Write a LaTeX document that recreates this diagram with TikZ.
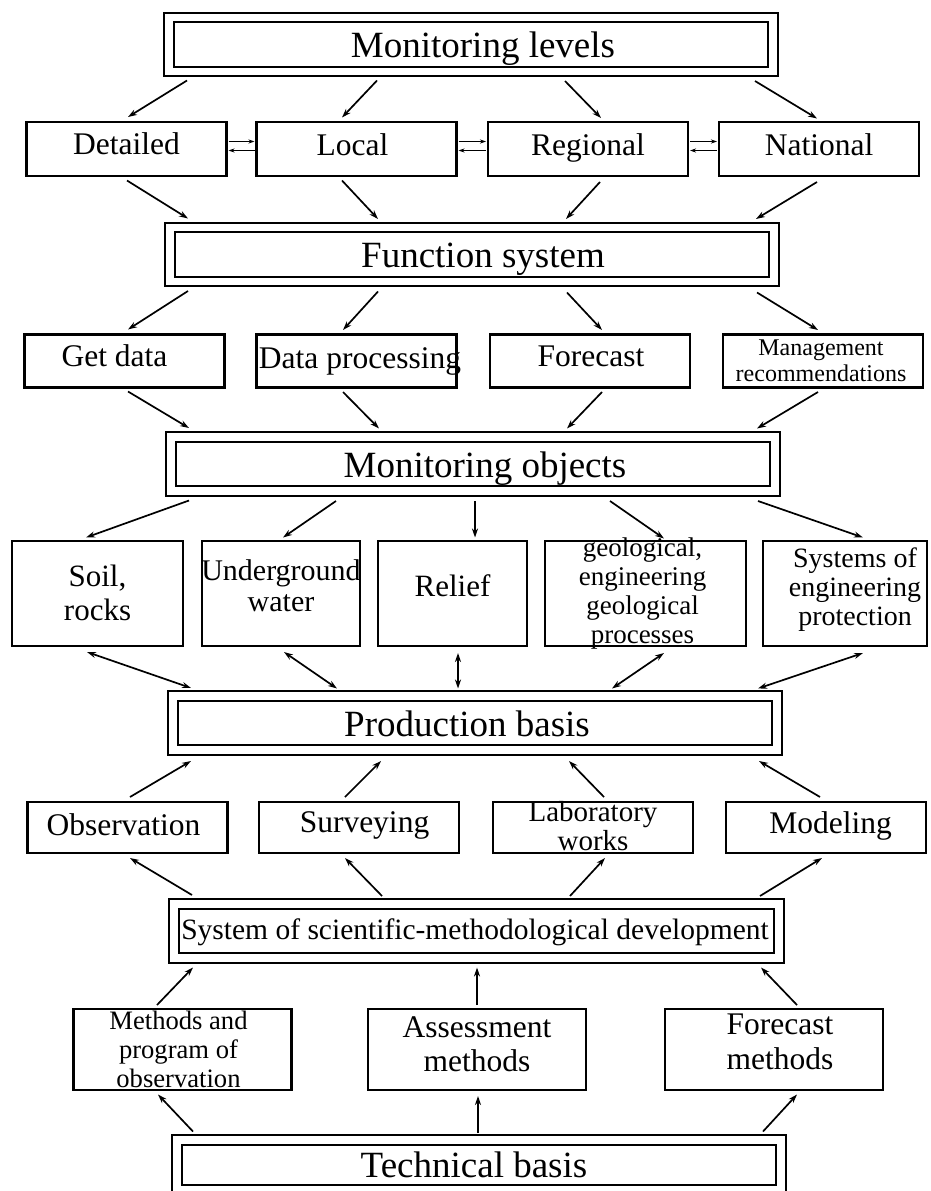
\documentclass[tikz,border=0pt]{standalone}
\usepackage{fontspec}
\setmainfont{Liberation Serif}
\usetikzlibrary{arrows.meta}
\begin{document}
\begin{tikzpicture}[x=1pt,y=-1pt,
  box/.style={draw, line width=2.2pt, inner sep=0pt, outer sep=0pt},
  dbox/.style={draw, line width=2pt, double, double distance=7.2pt, inner sep=0pt, outer sep=0pt,
    minimum width=604pt, minimum height=54pt},
  lvl/.style={box, minimum width=200pt, minimum height=54pt},
  fun/.style={box, minimum width=200pt, minimum height=53pt},
  obj/.style={box, minimum height=105pt},
  wrk/.style={box, minimum width=200pt, minimum height=51pt},
  mth/.style={box, minimum width=218pt, minimum height=81pt},
  tbig/.style={anchor=base, inner sep=0pt, font=\fontsize{37}{40}\selectfont},
  tmid/.style={anchor=base, inner sep=0pt, font=\fontsize{31.5}{34}\selectfont},
  tmulti/.style={align=center, inner sep=0pt},
  arr/.style={line width=1.7pt, -{Stealth[length=9pt,width=6pt]}},
  darr/.style={line width=1.7pt, {Stealth[length=9pt,width=6pt]}-{Stealth[length=9pt,width=6pt]}},
  sarr/.style={line width=1.3pt, -{Stealth[length=6pt,width=4pt]}}
]
\useasboundingbox (0,0) rectangle (931,1191);
\fill[white] (0,0) rectangle (931,1191);

% ---- boxes ----
\node[dbox] (ml) at (471,44.5) {};
\node[lvl] (det) at (126.5,149) {};
\node[lvl] (loc) at (356.5,149) {};
\node[lvl] (reg) at (588,149) {};
\node[lvl] (nat) at (819,149) {};
\node[dbox] (fs) at (472,254.5) {};
\node[fun] (gd) at (124.5,361) {};
\node[fun] (dp) at (356.5,361) {};
\node[fun] (fc) at (590,361) {};
\node[fun] (mg) at (823,361) {};
\node[dbox] (mo) at (473,464) {};
\node[obj, minimum width=171pt] (soil) at (97.5,593.5) {};
\node[obj, minimum width=158pt] (ug) at (281,593.5) {};
\node[obj, minimum width=149pt] (rel) at (452.5,593.5) {};
\node[obj, minimum width=201pt] (geo) at (645.5,593.5) {};
\node[obj, minimum width=164pt] (sys) at (845,593.5) {};
\node[dbox] (pb) at (475,723) {};
\node[wrk] (obs) at (127.5,827.5) {};
\node[wrk] (sur) at (359,827.5) {};
\node[wrk] (lab) at (593,827.5) {};
\node[wrk] (mod) at (826,827.5) {};
\node[dbox, minimum width=605pt] (sm) at (476.5,931) {};
\node[mth] (meth) at (182.5,1049.5) {};
\node[mth] (ass) at (477,1049.5) {};
\node[mth] (fm) at (774,1049.5) {};
\node[dbox, minimum height=50pt] (tb) at (479,1165) {};

% ---- texts ----
\node[tbig] (ml-t) at ([shift={(12,13)}]ml.center) {Monitoring levels};
\node[tmid] (det-t) at ([shift={(0,5)}]det.center) {Detailed};
\node[tmid] (loc-t) at ([shift={(-4,6)}]loc.center) {Local};
\node[tmid] (reg-t) at ([shift={(0,6)}]reg.center) {Regional};
\node[tmid] (nat-t) at ([shift={(0,6)}]nat.center) {National};
\node[tbig] (fs-t) at ([shift={(11,13)}]fs.center) {Function system};
\node[tmid] (gd-t) at ([shift={(-10,5)}]gd.center) {Get data};
\node[tmid] (dp-t) at ([shift={(3.5,7)}]dp.center) {Data processing};
\node[tmid] (fc-t) at ([shift={(1,5)}]fc.center) {Forecast};
\node[tmulti, font=\fontsize{24}{26}\selectfont] (mg-t) at ([shift={(-2,0)}]mg.center) {Management\\recommendations};
\node[tbig] (mo-t) at ([shift={(12,13)}]mo.center) {Monitoring objects};
\node[tmulti, font=\fontsize{31}{34}\selectfont] (soil-t) at ([shift={(0,-1)}]soil.center) {Soil,\\rocks};
\node[tmulti, font=\fontsize{30}{31}\selectfont] (ug-t) at ([shift={(0,-8)}]ug.center) {Underground\\water};
\node[anchor=base, inner sep=0pt, font=\fontsize{31}{34}\selectfont] (rel-t) at ([shift={(0,3)}]rel.center) {Relief};
\node[tmulti, font=\fontsize{27}{29}\selectfont] (geo-t) at ([shift={(-3,0)}]geo.center) {geological,\\engineering\\geological\\processes};
\node[tmulti, font=\fontsize{28}{29}\selectfont] (sys-t) at ([shift={(10,-4)}]sys.center) {Systems of\\engineering\\protection};
\node[tbig] (pb-t) at ([shift={(-8,13)}]pb.center) {Production basis};
\node[tmid] (obs-t) at ([shift={(-4,8)}]obs.center) {Observation};
\node[tmid] (sur-t) at ([shift={(5.5,5)}]sur.center) {Surveying};
\node[tmulti, font=\fontsize{29}{29}\selectfont] (lab-t) at ([shift={(0,-1)}]lab.center) {Laboratory\\works};
\node[tmid] (mod-t) at ([shift={(4.5,6)}]mod.center) {Modeling};
\node[anchor=base, inner sep=0pt, font=\fontsize{29.5}{32}\selectfont] (sm-t) at ([shift={(-1.5,8)}]sm.center) {System of scientific-methodological development};
\node[tmulti, font=\fontsize{26.6}{29}\selectfont] (meth-t) at ([shift={(-4,0)}]meth.center) {Methods and\\program of\\observation};
\node[tmulti, font=\fontsize{31.5}{34}\selectfont] (ass-t) at ([shift={(0,-5)}]ass.center) {Assessment\\methods};
\node[tmulti, font=\fontsize{31.5}{35}\selectfont] (fm-t) at ([shift={(6,-8)}]fm.center) {Forecast\\methods};
\node[tbig] (tb-t) at ([shift={(-5,12)}]tb.center) {Technical basis};

% ---- level exchanges ----
\draw[sarr] ([shift={(2,-7.5)}]det.east) -- ([shift={(-2,-7.5)}]loc.west);
\draw[sarr] ([shift={(-2,1.5)}]loc.west) -- ([shift={(2,1.5)}]det.east);
\draw[sarr] ([shift={(2,-7.5)}]loc.east) -- ([shift={(-2,-7.5)}]reg.west);
\draw[sarr] ([shift={(-2,1.5)}]reg.west) -- ([shift={(2,1.5)}]loc.east);
\draw[sarr] ([shift={(2,-7.5)}]reg.east) -- ([shift={(-2,-7.5)}]nat.west);
\draw[sarr] ([shift={(-2,1.5)}]nat.west) -- ([shift={(2,1.5)}]reg.east);

% ---- monitoring levels -> levels ----
\draw[arr] ([shift={(-284,9)}]ml.south) -- ([shift={(1.5,-5)}]det.north);
\draw[arr] ([shift={(-94,9)}]ml.south) -- ([shift={(-14.5,-4.5)}]loc.north);
\draw[arr] ([shift={(94,9.5)}]ml.south) -- ([shift={(13,-4)}]reg.north);
\draw[arr] ([shift={(284,9.5)}]ml.south) -- ([shift={(-2,-3.5)}]nat.north);

% ---- levels -> function system ----
\draw[arr] ([shift={(0.5,4.5)}]det.south) -- ([shift={(-284,-9)}]fs.north);
\draw[arr] ([shift={(-14.5,4.5)}]loc.south) -- ([shift={(-94,-8.5)}]fs.north);
\draw[arr] ([shift={(12,6)}]reg.south) -- ([shift={(94,-8.5)}]fs.north);
\draw[arr] ([shift={(-2,6)}]nat.south) -- ([shift={(284,-8.5)}]fs.north);

% ---- function system -> functions ----
\draw[arr] ([shift={(-284,9.5)}]fs.south) -- ([shift={(3.5,-5)}]gd.north);
\draw[arr] ([shift={(-94,10)}]fs.south) -- ([shift={(-13.5,-4.5)}]dp.north);
\draw[arr] ([shift={(95,11)}]fs.south) -- ([shift={(12,-4.5)}]fc.north);
\draw[arr] ([shift={(285,11)}]fs.south) -- ([shift={(-5,-4.5)}]mg.north);

% ---- functions -> monitoring objects ----
\draw[arr] ([shift={(3.5,4)}]gd.south) -- ([shift={(-284,-9)}]mo.north);
\draw[arr] ([shift={(-13.5,4.5)}]dp.south) -- ([shift={(-94,-8.5)}]mo.north);
\draw[arr] ([shift={(12,4.5)}]fc.south) -- ([shift={(94,-8.5)}]mo.north);
\draw[arr] ([shift={(-5,4.5)}]mg.south) -- ([shift={(284,-8.5)}]mo.north);

% ---- monitoring objects -> objects ----
\draw[arr] ([shift={(-284,9.5)}]mo.south) -- ([shift={(-11.5,-3.5)}]soil.north);
\draw[arr] ([shift={(-137,10)}]mo.south) -- ([shift={(2,-3.5)}]ug.north);
\draw[arr] ([shift={(2,10)}]mo.south) -- ([shift={(22.5,-3.5)}]rel.north);
\draw[arr] ([shift={(137,10)}]mo.south) -- ([shift={(18.5,-2.5)}]geo.north);
\draw[arr] ([shift={(285,10)}]mo.south) -- ([shift={(18,-3.5)}]sys.north);

% ---- objects <-> production basis ----
\draw[darr] ([shift={(-10.5,6)}]soil.south) -- ([shift={(-284,-8)}]pb.north);
\draw[darr] ([shift={(3,6)}]ug.south) -- ([shift={(-138,-7.5)}]pb.north);
\draw[darr] ([shift={(5.5,7)}]rel.south) -- ([shift={(-17,-7.5)}]pb.north);
\draw[darr] ([shift={(18.5,7)}]geo.south) -- ([shift={(137,-7.5)}]pb.north);
\draw[darr] ([shift={(18,7)}]sys.south) -- ([shift={(283,-7.5)}]pb.north);

% ---- works -> production basis ----
\draw[arr] ([shift={(2.5,-5)}]obs.north) -- ([shift={(-284,11)}]pb.south);
\draw[arr] ([shift={(-14,-5)}]sur.north) -- ([shift={(-94,11)}]pb.south);
\draw[arr] ([shift={(11,-5)}]lab.north) -- ([shift={(94,11)}]pb.south);
\draw[arr] ([shift={(-6,-5)}]mod.north) -- ([shift={(284,11)}]pb.south);

% ---- methodological development -> works ----
\draw[arr] ([shift={(-284.5,-9)}]sm.north) -- ([shift={(2.5,5)}]obs.south);
\draw[arr] ([shift={(-94.5,-8)}]sm.north) -- ([shift={(-14,5)}]sur.south);
\draw[arr] ([shift={(93.5,-8)}]sm.north) -- ([shift={(12,5)}]lab.south);
\draw[arr] ([shift={(283.5,-8)}]sm.north) -- ([shift={(-4,5)}]mod.south);

% ---- methods -> methodological development ----
\draw[arr] ([shift={(-25.5,-4)}]meth.north) -- ([shift={(-283.5,9.5)}]sm.south);
\draw[arr] ([shift={(0,-4)}]ass.north) -- ([shift={(0.5,9.5)}]sm.south);
\draw[arr] ([shift={(23,-4)}]fm.north) -- ([shift={(284.5,9.5)}]sm.south);

% ---- technical basis -> methods ----
\draw[arr] ([shift={(-286,-8.5)}]tb.north) -- ([shift={(-24.5,4.5)}]meth.south);
\draw[arr] ([shift={(-1,-7)}]tb.north) -- ([shift={(1,6)}]ass.south);
\draw[arr] ([shift={(284,-8.5)}]tb.north) -- ([shift={(23,4.5)}]fm.south);
\end{tikzpicture}
\end{document}
